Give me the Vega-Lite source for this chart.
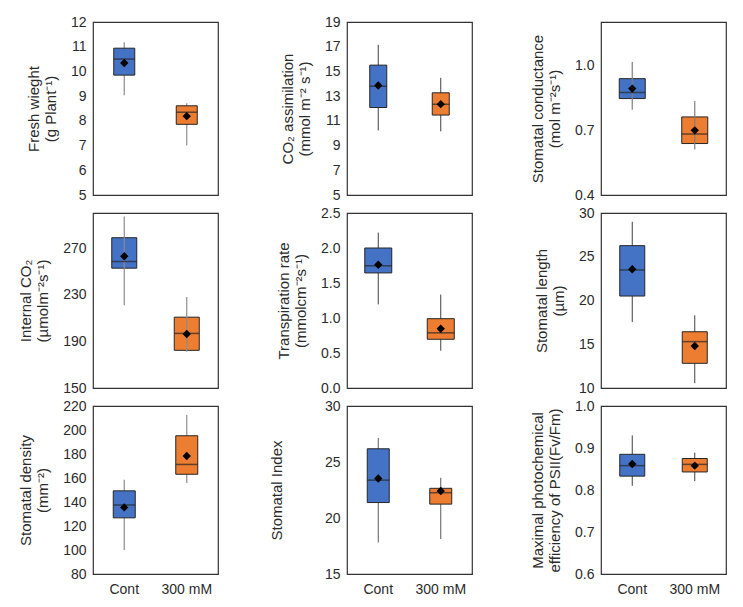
{
  "$schema": "https://vega.github.io/schema/vega-lite/v6.json",
  "padding": {"left": 18, "top": 14, "right": 5, "bottom": 5},
  "background": "white",
  "datasets": {
    "d": [
      {"panel": "fw", "group": "Cont", "min": 9.04, "q1": 9.85, "median": 10.5, "q3": 10.94, "max": 11.18, "mean": 10.34},
      {"panel": "fw", "group": "300 mM", "min": 7.0, "q1": 7.86, "median": 8.35, "q3": 8.61, "max": 8.71, "mean": 8.19},
      {"panel": "co2", "group": "Cont", "min": 10.23, "q1": 12.08, "median": 13.8, "q3": 15.51, "max": 17.15, "mean": 13.86},
      {"panel": "co2", "group": "300 mM", "min": 10.15, "q1": 11.47, "median": 12.34, "q3": 13.27, "max": 14.48, "mean": 12.35},
      {"panel": "gs", "group": "Cont", "min": 0.794, "q1": 0.846, "median": 0.874, "q3": 0.938, "max": 1.015, "mean": 0.892},
      {"panel": "gs", "group": "300 mM", "min": 0.61, "q1": 0.638, "median": 0.682, "q3": 0.761, "max": 0.835, "mean": 0.699},
      {"panel": "ci", "group": "Cont", "min": 221, "q1": 252.7, "median": 258.4, "q3": 278.8, "max": 297, "mean": 262.9},
      {"panel": "ci", "group": "300 mM", "min": 181, "q1": 182.3, "median": 196.8, "q3": 210.7, "max": 228, "mean": 196.3},
      {"panel": "tr", "group": "Cont", "min": 1.194, "q1": 1.644, "median": 1.746, "q3": 2.0, "max": 2.22, "mean": 1.76},
      {"panel": "tr", "group": "300 mM", "min": 0.532, "q1": 0.696, "median": 0.788, "q3": 0.99, "max": 1.335, "mean": 0.846},
      {"panel": "sl", "group": "Cont", "min": 17.53, "q1": 20.51, "median": 23.49, "q3": 26.27, "max": 29.0, "mean": 23.57},
      {"panel": "sl", "group": "300 mM", "min": 10.55, "q1": 12.82, "median": 15.3, "q3": 16.43, "max": 18.31, "mean": 14.8},
      {"panel": "sd", "group": "Cont", "min": 100, "q1": 126.8, "median": 137.5, "q3": 149.3, "max": 158.6, "mean": 135.5},
      {"panel": "sd", "group": "300 mM", "min": 155.8, "q1": 163.1, "median": 171.3, "q3": 195.2, "max": 212.4, "mean": 178.3},
      {"panel": "si", "group": "Cont", "min": 17.82, "q1": 21.38, "median": 23.38, "q3": 26.18, "max": 27.15, "mean": 23.53},
      {"panel": "si", "group": "300 mM", "min": 18.12, "q1": 21.24, "median": 22.26, "q3": 22.65, "max": 23.59, "mean": 22.41},
      {"panel": "fvfm", "group": "Cont", "min": 0.81, "q1": 0.833, "median": 0.858, "q3": 0.885, "max": 0.93, "mean": 0.862},
      {"panel": "fvfm", "group": "300 mM", "min": 0.821, "q1": 0.843, "median": 0.861, "q3": 0.875, "max": 0.889, "mean": 0.858}
    ]
  },
  "data": {"name": "d"},
  "config": {
    "view": {"stroke": "#333333", "strokeWidth": 1.2},
    "font": "Liberation Sans",
    "axis": {"labelFont": "Liberation Sans", "labelFontSize": 14, "labelColor": "#2b2b2b", "titleFont": "Liberation Sans", "titleFontSize": 15, "titleFontWeight": "normal", "titleColor": "#2b2b2b", "grid": false},
    "axisY": {"domain": false, "ticks": false, "labelPadding": 7, "titlePadding": 12, "labelOverlap": false, "labelBound": false, "labelFlush": false, "tickCount": 30},
    "axisX": {"domain": false, "ticks": false, "labelPadding": 8, "labelAngle": 0},
    "tick": {"thickness": 1.5}
  },
  "columns": 3,
  "bounds": "flush",
  "spacing": {"row": 18, "column": 129},
  "resolve": {"scale": {"y": "independent"}},
  "concat": [
    {
      "width": 125, "height": 173,
      "transform": [{"filter": "datum.panel == 'fw'"}],
      "encoding": {"x": {"field": "group", "type": "nominal", "sort": ["Cont", "300 mM"], "scale": {"paddingInner": 0, "paddingOuter": 0}, "axis": {"labels": false, "title": null}}},
      "layer": [
        {"mark": {"type": "rule", "color": "#8c8c8c", "strokeWidth": 1.2}, "encoding": {"y": {"field": "min", "type": "quantitative", "scale": {"domain": [5, 12], "nice": false}, "axis": {"values": [5,6,7,8,9,10,11,12], "format": "d", "title": ["Fresh wieght", "(g Plant⁻¹)"]}}, "y2": {"field": "max"}}},
        {"mark": {"type": "bar", "size": 21, "stroke": "#262626", "strokeWidth": 1}, "encoding": {"y": {"field": "q1", "type": "quantitative"}, "y2": {"field": "q3"}, "color": {"field": "group", "type": "nominal", "scale": {"domain": ["Cont", "300 mM"], "range": ["#4472C4", "#ED7D31"]}, "legend": null}}},
        {"mark": {"type": "tick", "color": "#262626", "size": 21}, "encoding": {"y": {"field": "median", "type": "quantitative"}}},
        {"mark": {"type": "point", "shape": "diamond", "filled": true, "color": "black", "size": 70, "opacity": 1}, "encoding": {"y": {"field": "mean", "type": "quantitative"}}}
      ]
    },
    {
      "width": 125, "height": 173,
      "transform": [{"filter": "datum.panel == 'co2'"}],
      "encoding": {"x": {"field": "group", "type": "nominal", "sort": ["Cont", "300 mM"], "scale": {"paddingInner": 0, "paddingOuter": 0}, "axis": {"labels": false, "title": null}}},
      "layer": [
        {"mark": {"type": "rule", "color": "#404040", "strokeWidth": 1}, "encoding": {"y": {"field": "min", "type": "quantitative", "scale": {"domain": [5, 19], "nice": false}, "axis": {"values": [5,7,9,11,13,15,17,19], "format": "d", "title": ["CO₂ assimilation", "(mmol m⁻² s⁻¹)"]}}, "y2": {"field": "max"}}},
        {"mark": {"type": "bar", "size": 17, "stroke": "#262626", "strokeWidth": 1}, "encoding": {"y": {"field": "q1", "type": "quantitative"}, "y2": {"field": "q3"}, "color": {"field": "group", "type": "nominal", "legend": null}}},
        {"mark": {"type": "tick", "color": "#262626", "size": 17}, "encoding": {"y": {"field": "median", "type": "quantitative"}}},
        {"mark": {"type": "point", "shape": "diamond", "filled": true, "color": "black", "size": 70, "opacity": 1}, "encoding": {"y": {"field": "mean", "type": "quantitative"}}}
      ]
    },
    {
      "width": 125, "height": 173,
      "transform": [{"filter": "datum.panel == 'gs'"}],
      "encoding": {"x": {"field": "group", "type": "nominal", "sort": ["Cont", "300 mM"], "scale": {"paddingInner": 0, "paddingOuter": 0}, "axis": {"labels": false, "title": null}}},
      "layer": [
        {"mark": {"type": "bar", "size": 26, "stroke": "#262626", "strokeWidth": 1}, "encoding": {"y": {"field": "q1", "type": "quantitative", "scale": {"domain": [0.4, 1.2], "nice": false}, "axis": {"values": [0.4, 0.7, 1.0], "format": ".1f", "title": ["Stomatal conductance", "(mol m⁻²s⁻¹)"]}}, "y2": {"field": "q3"}, "color": {"field": "group", "type": "nominal", "legend": null}}},
        {"mark": {"type": "rule", "color": "#7f7f7f", "strokeWidth": 1.2}, "encoding": {"y": {"field": "min", "type": "quantitative"}, "y2": {"field": "max"}}},
        {"mark": {"type": "tick", "color": "#262626", "size": 26}, "encoding": {"y": {"field": "median", "type": "quantitative"}}},
        {"mark": {"type": "point", "shape": "diamond", "filled": true, "color": "black", "size": 70, "opacity": 1}, "encoding": {"y": {"field": "mean", "type": "quantitative"}}}
      ]
    },
    {
      "width": 125, "height": 175,
      "transform": [{"filter": "datum.panel == 'ci'"}],
      "encoding": {"x": {"field": "group", "type": "nominal", "sort": ["Cont", "300 mM"], "scale": {"paddingInner": 0, "paddingOuter": 0}, "axis": {"labels": false, "title": null}}},
      "layer": [
        {"mark": {"type": "bar", "size": 25, "stroke": "#262626", "strokeWidth": 1}, "encoding": {"y": {"field": "q1", "type": "quantitative", "scale": {"domain": [150, 300], "nice": false}, "axis": {"values": [150, 190, 230, 270], "format": "d", "title": ["Internal CO₂", "(µmolm⁻²s⁻¹)"]}}, "y2": {"field": "q3"}, "color": {"field": "group", "type": "nominal", "legend": null}}},
        {"mark": {"type": "rule", "color": "#8c8c8c", "strokeWidth": 1.2}, "encoding": {"y": {"field": "min", "type": "quantitative"}, "y2": {"field": "max"}}},
        {"mark": {"type": "tick", "color": "#262626", "size": 25}, "encoding": {"y": {"field": "median", "type": "quantitative"}}},
        {"mark": {"type": "point", "shape": "diamond", "filled": true, "color": "black", "size": 70, "opacity": 1}, "encoding": {"y": {"field": "mean", "type": "quantitative"}}}
      ]
    },
    {
      "width": 125, "height": 175,
      "transform": [{"filter": "datum.panel == 'tr'"}],
      "encoding": {"x": {"field": "group", "type": "nominal", "sort": ["Cont", "300 mM"], "scale": {"paddingInner": 0, "paddingOuter": 0}, "axis": {"labels": false, "title": null}}},
      "layer": [
        {"mark": {"type": "rule", "color": "#404040", "strokeWidth": 1}, "encoding": {"y": {"field": "min", "type": "quantitative", "scale": {"domain": [0, 2.5], "nice": false}, "axis": {"values": [0, 0.5, 1.0, 1.5, 2.0, 2.5], "format": ".1f", "title": ["Transpiration rate", "(mmolcm⁻²s⁻¹)"]}}, "y2": {"field": "max"}}},
        {"mark": {"type": "bar", "size": 27, "stroke": "#262626", "strokeWidth": 1}, "encoding": {"y": {"field": "q1", "type": "quantitative"}, "y2": {"field": "q3"}, "color": {"field": "group", "type": "nominal", "legend": null}}},
        {"mark": {"type": "tick", "color": "#262626", "size": 27}, "encoding": {"y": {"field": "median", "type": "quantitative"}}},
        {"mark": {"type": "point", "shape": "diamond", "filled": true, "color": "black", "size": 70, "opacity": 1}, "encoding": {"y": {"field": "mean", "type": "quantitative"}}}
      ]
    },
    {
      "width": 125, "height": 175,
      "transform": [{"filter": "datum.panel == 'sl'"}],
      "encoding": {"x": {"field": "group", "type": "nominal", "sort": ["Cont", "300 mM"], "scale": {"paddingInner": 0, "paddingOuter": 0}, "axis": {"labels": false, "title": null}}},
      "layer": [
        {"mark": {"type": "rule", "color": "#404040", "strokeWidth": 1}, "encoding": {"y": {"field": "min", "type": "quantitative", "scale": {"domain": [10, 30], "nice": false}, "axis": {"values": [10, 15, 20, 25, 30], "format": "d", "title": ["Stomatal length", "(µm)"]}}, "y2": {"field": "max"}}},
        {"mark": {"type": "bar", "size": 25, "stroke": "#262626", "strokeWidth": 1}, "encoding": {"y": {"field": "q1", "type": "quantitative"}, "y2": {"field": "q3"}, "color": {"field": "group", "type": "nominal", "legend": null}}},
        {"mark": {"type": "tick", "color": "#262626", "size": 25}, "encoding": {"y": {"field": "median", "type": "quantitative"}}},
        {"mark": {"type": "point", "shape": "diamond", "filled": true, "color": "black", "size": 70, "opacity": 1}, "encoding": {"y": {"field": "mean", "type": "quantitative"}}}
      ]
    },
    {
      "width": 125, "height": 168,
      "transform": [{"filter": "datum.panel == 'sd'"}],
      "encoding": {"x": {"field": "group", "type": "nominal", "sort": ["Cont", "300 mM"], "scale": {"paddingInner": 0, "paddingOuter": 0}, "axis": {"title": null}}},
      "layer": [
        {"mark": {"type": "rule", "color": "#8c8c8c", "strokeWidth": 1.2}, "encoding": {"y": {"field": "min", "type": "quantitative", "scale": {"domain": [80, 220], "nice": false}, "axis": {"values": [80, 100, 120, 140, 160, 180, 200, 220], "format": "d", "title": ["Stomatal density", "(mm⁻²)"]}}, "y2": {"field": "max"}}},
        {"mark": {"type": "bar", "size": 22, "stroke": "#262626", "strokeWidth": 1}, "encoding": {"y": {"field": "q1", "type": "quantitative"}, "y2": {"field": "q3"}, "color": {"field": "group", "type": "nominal", "legend": null}}},
        {"mark": {"type": "tick", "color": "#262626", "size": 22}, "encoding": {"y": {"field": "median", "type": "quantitative"}}},
        {"mark": {"type": "point", "shape": "diamond", "filled": true, "color": "black", "size": 70, "opacity": 1}, "encoding": {"y": {"field": "mean", "type": "quantitative"}}}
      ]
    },
    {
      "width": 125, "height": 168,
      "transform": [{"filter": "datum.panel == 'si'"}],
      "encoding": {"x": {"field": "group", "type": "nominal", "sort": ["Cont", "300 mM"], "scale": {"paddingInner": 0, "paddingOuter": 0}, "axis": {"title": null}}},
      "layer": [
        {"mark": {"type": "rule", "color": "#595959", "strokeWidth": 1}, "encoding": {"y": {"field": "min", "type": "quantitative", "scale": {"domain": [15, 30], "nice": false}, "axis": {"values": [15, 20, 25, 30], "format": "d", "title": "Stomatal Index", "titlePadding": 40}}, "y2": {"field": "max"}}},
        {"mark": {"type": "bar", "size": 22, "stroke": "#262626", "strokeWidth": 1}, "encoding": {"y": {"field": "q1", "type": "quantitative"}, "y2": {"field": "q3"}, "color": {"field": "group", "type": "nominal", "legend": null}}},
        {"mark": {"type": "tick", "color": "#262626", "size": 22}, "encoding": {"y": {"field": "median", "type": "quantitative"}}},
        {"mark": {"type": "point", "shape": "diamond", "filled": true, "color": "black", "size": 70, "opacity": 1}, "encoding": {"y": {"field": "mean", "type": "quantitative"}}}
      ]
    },
    {
      "width": 125, "height": 168,
      "transform": [{"filter": "datum.panel == 'fvfm'"}],
      "encoding": {"x": {"field": "group", "type": "nominal", "sort": ["Cont", "300 mM"], "scale": {"paddingInner": 0, "paddingOuter": 0}, "axis": {"title": null}}},
      "layer": [
        {"mark": {"type": "rule", "color": "#404040", "strokeWidth": 1}, "encoding": {"y": {"field": "min", "type": "quantitative", "scale": {"domain": [0.6, 1.0], "nice": false}, "axis": {"values": [0.6, 0.7, 0.8, 0.9, 1.0], "format": ".1f", "title": ["Maximal photochemical", "efficiency of PSII(Fv/Fm)"]}}, "y2": {"field": "max"}}},
        {"mark": {"type": "bar", "size": 25, "stroke": "#262626", "strokeWidth": 1}, "encoding": {"y": {"field": "q1", "type": "quantitative"}, "y2": {"field": "q3"}, "color": {"field": "group", "type": "nominal", "legend": null}}},
        {"mark": {"type": "tick", "color": "#262626", "size": 25}, "encoding": {"y": {"field": "median", "type": "quantitative"}}},
        {"mark": {"type": "point", "shape": "diamond", "filled": true, "color": "black", "size": 70, "opacity": 1}, "encoding": {"y": {"field": "mean", "type": "quantitative"}}}
      ]
    }
  ]
}
